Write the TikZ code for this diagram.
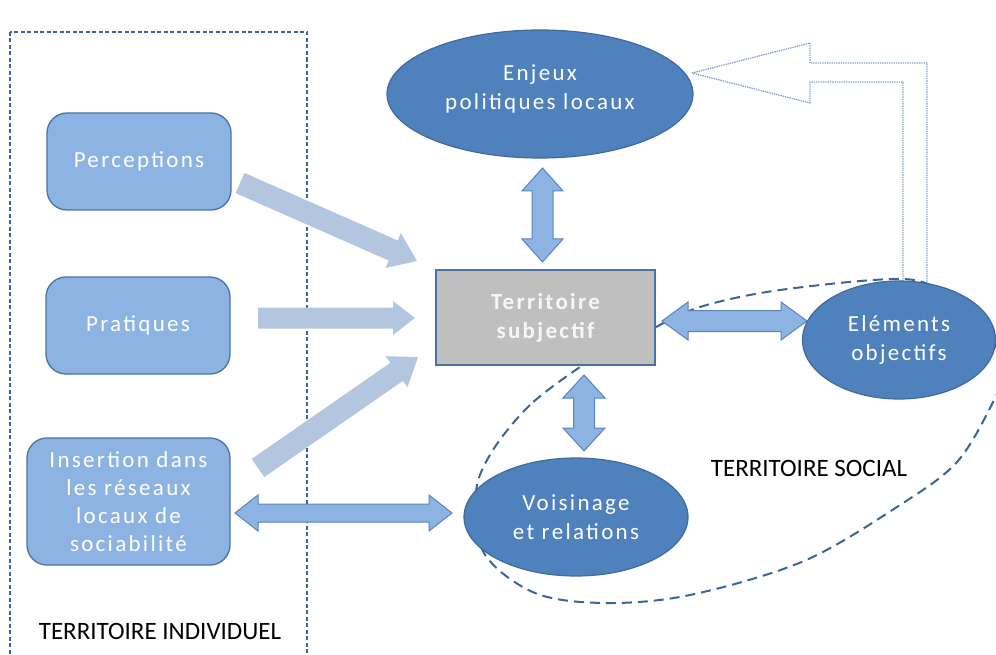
\documentclass[tikz,border=0pt]{standalone}
\usepackage{fontspec}
\setmainfont{Carlito}
\newfontfamily\nodefont[LetterSpace=10]{Carlito}
\usetikzlibrary{calc,shapes.geometric}
\definecolor{lightfill}{HTML}{8DB3E2}
\definecolor{boxborder}{HTML}{4A72A6}
\definecolor{ellfill}{HTML}{4F81BD}
\definecolor{ellborder}{HTML}{3F6A9E}
\definecolor{pale}{HTML}{B3C6E0}
\definecolor{dasher}{HTML}{3A6595}
\definecolor{graybox}{HTML}{BFBFBF}
\definecolor{dblfill}{HTML}{8DB3E2}
\definecolor{dblborder}{HTML}{5A84BE}
\definecolor{dotline}{HTML}{7F9CC8}
\tikzset{
  lightbox/.style={draw=boxborder, line width=1.3pt, fill=lightfill, rounded corners=20pt,
    inner sep=0pt, align=center, text=white, font=\nodefont\fontsize{23}{28}\selectfont},
  ellnode/.style={ellipse, draw=ellborder, line width=1.2pt, fill=ellfill, inner sep=0pt,
    align=center, text=white, font=\nodefont\fontsize{23}{29}\selectfont},
  subjbox/.style={draw=boxborder, line width=1.5pt, fill=graybox, inner sep=0pt,
    align=center, text=white!97!black, font=\nodefont\bfseries\fontsize{23}{29}\selectfont},
  labeltext/.style={text=black, font=\fontsize{25}{28}\selectfont, inner sep=0pt},
  dblarrowstyle/.style={fill=dblfill, draw=dblborder, line width=1pt, line join=miter},
  framedash/.style={draw=dasher, line width=1.3pt, dash pattern=on 4pt off 2.5pt},
  socialdash/.style={draw=dasher, line width=2pt, dash pattern=on 10pt off 6pt},
  blockoutline/.style={draw=dotline, line width=1.3pt, densely dotted}
}
% double block arrow: from, to, half shaft, half head, head length
\newcommand\dblarrow[5]{%
  \coordinate (da1) at ($(#1)!#5!(#2)$);
  \coordinate (da2) at ($(#2)!#5!(#1)$);
  \draw[dblarrowstyle] (#1) -- ($(da1)!#4!90:(#2)$) -- ($(da1)!#3!90:(#2)$)
    -- ($(da2)!#3!-90:(#1)$) -- ($(da2)!#4!-90:(#1)$) -- (#2)
    -- ($(da2)!#4!90:(#1)$) -- ($(da2)!#3!90:(#1)$)
    -- ($(da1)!#3!-90:(#2)$) -- ($(da1)!#4!-90:(#2)$) -- cycle;
}
% single block arrow: from, to, half shaft, half head, head length
\newcommand\sglarrow[5]{%
  \coordinate (sa1) at ($(#2)!#5!(#1)$);
  \fill[pale] ($(#1)!#3!90:(#2)$) -- ($(sa1)!#3!-90:(#1)$) -- ($(sa1)!#4!-90:(#1)$)
    -- (#2) -- ($(sa1)!#4!90:(#1)$) -- ($(sa1)!#3!90:(#1)$)
    -- ($(#1)!#3!-90:(#2)$) -- cycle;
}
\begin{document}
\begin{tikzpicture}[x=1pt,y=-1pt]
\useasboundingbox (0,0) rectangle (996,655);
\clip (0,0) rectangle (996,655);

% individual territory frame
\draw[framedash] (10,32) rectangle (307,675);

% social territory dashed contour (drawn first, nodes cover parts of it)
\draw[socialdash] plot[smooth cycle, tension=0.55] coordinates {
  (580,367) (530,405) (493,450) (476,492) (484,553) (535,593) (605,603)
  (690,595) (804,561) (900,505) (957,462) (993,402) (1004,368) (982,325)
  (948,296) (903,279) (780,290) (700,307) (650,330) (610,350)};

% outlined block arrow from Elements to Enjeux
\coordinate (bt) at (692,73);
\draw[blockoutline] (bt) -- (810,43) -- (810,63) -- (927,63) -- (927,300)
  (903,300) -- (903,82) -- (810,82) -- (810,103) -- (bt);

% nodes
\node[lightbox, minimum width=184pt, minimum height=97pt] (perc) at (139,161.5) {Perceptions};
\node[lightbox, minimum width=184pt, minimum height=97pt] (prat) at (138,325.5) {Pratiques};
\node[lightbox, minimum width=203pt, minimum height=127pt] (ins) at (128.5,501.5)
  {Insertion dans\\les réseaux\\locaux de\\sociabilité};
\node[subjbox, minimum width=219pt, minimum height=95pt] (subj) at (545.5,317.5)
  {Territoire\\subjectif};
\node[ellnode, minimum width=306pt, minimum height=128pt] (enj) at (540,94)
  {Enjeux\\politiques locaux\\[-15pt]\mbox{}};
\node[ellnode, minimum width=193pt, minimum height=118pt] (elem) at (899,340)
  {Eléments\\objectifs};
\node[ellnode, minimum width=224pt, minimum height=118pt] (vois) at (576,517)
  {Voisinage\\et relations};

\node[labeltext] (lblind) at (160,631) {TERRITOIRE INDIVIDUEL};
\node[labeltext] (lblsoc) at (809,468) {TERRITOIRE SOCIAL};

% light single arrows into subjective territory
\coordinate (p1) at (240,183);  \coordinate (p1t) at (417,261);
\coordinate (p2) at (258,318);  \coordinate (p2t) at (415,318);
\coordinate (p3) at (258,468);  \coordinate (p3t) at (418,357);
\sglarrow{p1}{p1t}{11pt}{19pt}{26pt}
\sglarrow{p2}{p2t}{10.5pt}{17pt}{22pt}
\sglarrow{p3}{p3t}{11pt}{19pt}{26pt}

% double arrows
\coordinate (d1a) at (542.5,168); \coordinate (d1b) at (542.5,262);
\coordinate (d2a) at (662,321);   \coordinate (d2b) at (807,321);
\coordinate (d3a) at (584,375);   \coordinate (d3b) at (584,451);
\coordinate (d4a) at (235,513);   \coordinate (d4b) at (452,513);
\dblarrow{d1a}{d1b}{10.5pt}{20.5pt}{23pt}
\dblarrow{d2a}{d2b}{10.5pt}{19pt}{26pt}
\dblarrow{d3a}{d3b}{10.5pt}{21pt}{23pt}
\dblarrow{d4a}{d4b}{9pt}{18pt}{23pt}
\end{tikzpicture}
\end{document}
